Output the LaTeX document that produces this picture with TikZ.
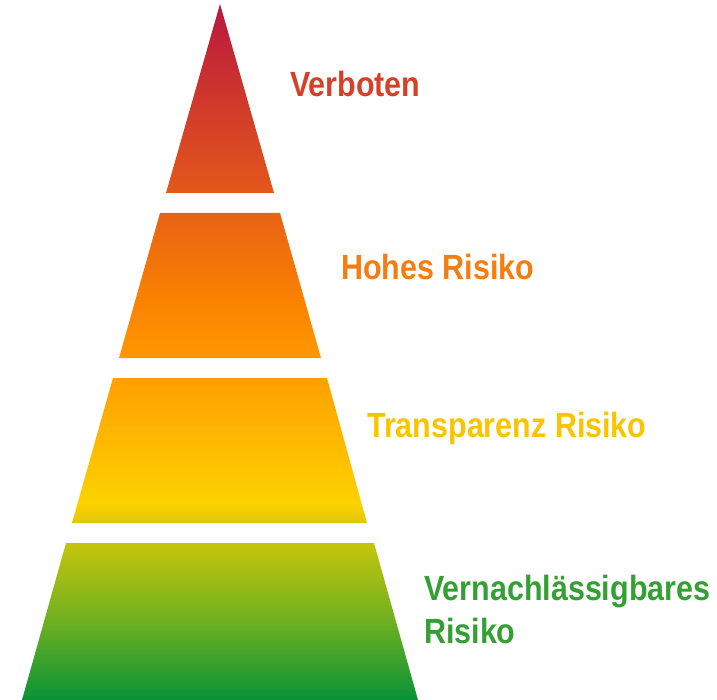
\documentclass[tikz,border=0pt]{standalone}
\usepackage{xcolor}
\usepackage{fontspec}
\usepackage{tikz}
\newfontfamily\riskfont{Liberation Sans}[FakeStretch=0.87]
\definecolor{verbotentop}{RGB}{184,24,62}
\definecolor{verbotenbot}{RGB}{228,88,26}
\definecolor{hochtop}{RGB}{232,98,22}
\definecolor{hochmid}{RGB}{250,130,0}
\definecolor{hochbot}{RGB}{255,152,0}
\definecolor{transtop}{RGB}{255,160,0}
\definecolor{transmid}{RGB}{252,210,0}
\definecolor{transbot}{RGB}{224,198,12}
\definecolor{mintop}{RGB}{196,197,12}
\definecolor{minmid}{RGB}{110,176,34}
\definecolor{minbot}{RGB}{8,146,56}
\definecolor{verbotentext}{RGB}{214,64,40}
\definecolor{hochtext}{RGB}{245,125,18}
\definecolor{transtext}{RGB}{250,196,0}
\definecolor{mintext}{RGB}{52,160,52}
\pgfdeclareverticalshading{verbotenshade}{100bp}{color(0bp)=(verbotenbot); color(25bp)=(verbotenbot); color(75bp)=(verbotentop); color(100bp)=(verbotentop)}
\pgfdeclareverticalshading{hochshade}{100bp}{color(0bp)=(hochbot); color(25bp)=(hochbot); color(45bp)=(hochmid); color(75bp)=(hochtop); color(100bp)=(hochtop)}
\pgfdeclareverticalshading{transshade}{100bp}{color(0bp)=(transbot); color(25bp)=(transbot); color(32bp)=(transmid); color(75bp)=(transtop); color(100bp)=(transtop)}
\pgfdeclareverticalshading{minshade}{100bp}{color(0bp)=(minbot); color(25bp)=(minbot); color(50bp)=(minmid); color(75bp)=(mintop); color(100bp)=(mintop)}
\tikzset{risktext/.style={font=\fontsize{35}{43}\selectfont\riskfont\bfseries, anchor=base west, inner sep=0pt, align=left}}
\newcommand{\schicht}[2]{
  \path[shading=#1] #2;
}

\begin{document}
\begin{tikzpicture}[x=1pt,y=-1pt]
\useasboundingbox (0,0) rectangle (717,700);

% pyramid, top to bottom
\schicht{verbotenshade}{(220,4) -- (274,193) -- (166,193) -- cycle}
\schicht{hochshade}{(160,213) -- (280,213) -- (321,358) -- (119,358) -- cycle}
\schicht{transshade}{(113,378) -- (327,378) -- (367,523) -- (72,523) -- cycle}
\schicht{minshade}{(66,543) -- (374,543) -- (418,700) -- (22,700) -- cycle}

\node[risktext, text=verbotentext] (verboten) at (290,97) {Verboten};
\node[risktext, text=hochtext] (hoch) at (341,280) {Hohes Risiko};
\node[risktext, text=transtext] (transparenz) at (367,437) {Transparenz Risiko};
% base of a two-line node sits on its last line
\node[risktext, text=mintext] (minimal) at (424,643) {Vernachlässigbares\\Risiko};

\end{tikzpicture}
\end{document}
